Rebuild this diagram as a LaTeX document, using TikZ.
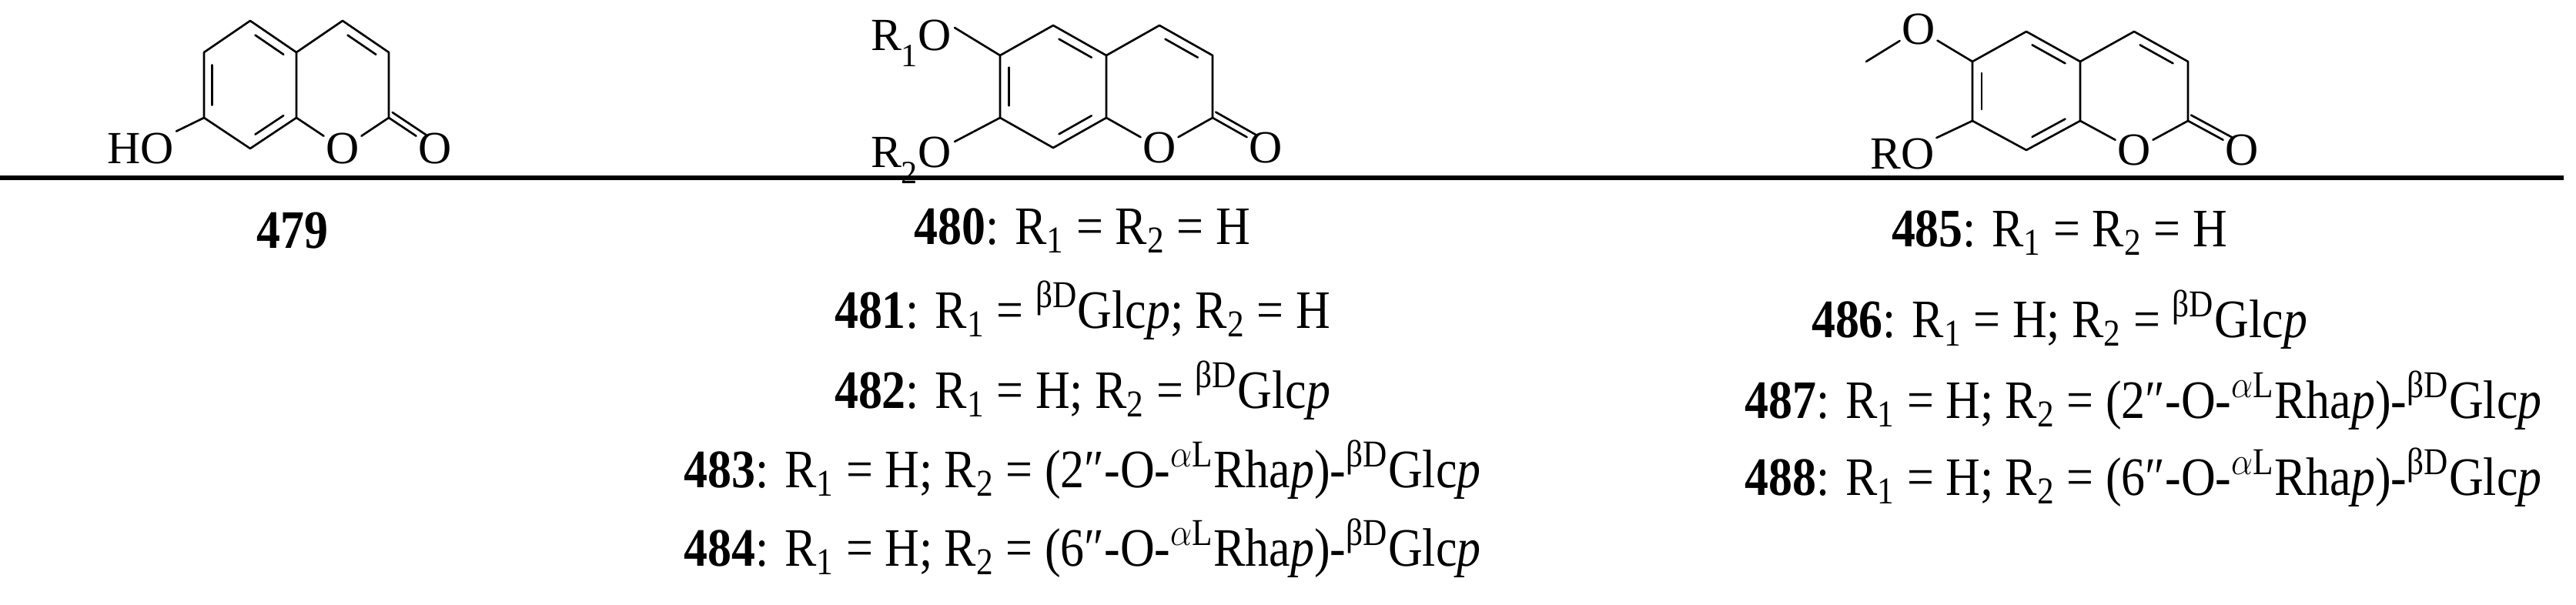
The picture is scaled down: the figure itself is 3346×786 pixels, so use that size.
\documentclass[tikz,border=0pt]{standalone}
\usepackage{fontspec}
\setmainfont{Liberation Serif}
\usetikzlibrary{calc}
\newcommand\coum[7]{%
 \coordinate (#1c5) at ({#2-#3},#4);
 \coordinate (#1c6) at ({#2-2*#3},#5);
 \coordinate (#1c7) at ({#2-2*#3},#6);
 \coordinate (#1c8) at ({#2-#3},#7);
 \coordinate (#1c8a) at (#2,#6);
 \coordinate (#1c4a) at (#2,#5);
 \coordinate (#1c4) at ({#2+#3},#4);
 \coordinate (#1c3) at ({#2+2*#3},#5);
 \coordinate (#1c2) at ({#2+2*#3},#6);
 \coordinate (#1ca) at ({#2-#3},{(#5+#6)/2});
 \coordinate (#1cb) at ({#2+#3},{(#5+#6)/2});
 \node[atom] (#1o1) at ({#2+#3},#7) {O};
 \node[atom] (#1oc) at ({#2+3*#3},#7) {O};
 \draw[bond] (#1c4a) -- (#1c5) -- (#1c6) -- (#1c7) -- (#1c8) -- (#1c8a) -- cycle;
 \draw[bond] (#1c8a) -- (#1o1) -- (#1c2) -- (#1c3) -- (#1c4) -- (#1c4a);
 \draw[bond] (#1c2) -- (#1oc);
 \draw[bond,shorten >=5.5pt] ($(#1c2)!2.4pt!90:(#1oc)$) -- ($(#1oc)!2.4pt!-90:(#1c2)$);
 \dbl{#1c4a}{#1c5}{#1ca}\dbl{#1c6}{#1c7}{#1ca}\dbl{#1c8}{#1c8a}{#1ca}\dbl{#1c3}{#1c4}{#1cb}%
}
\newcommand\dbl[3]{\draw[bond] ($(#1)!0.13!(#2)!0.17!(#3)$) -- ($(#2)!0.13!(#1)!0.17!(#3)$);}
\tikzset{
 bond/.style={line width=0.75pt, line cap=round, line join=round},
 atom/.style={inner sep=0.6pt, font=\fontsize{17pt}{20pt}\selectfont},
 lab/.style={inner sep=0pt, font=\fontsize{20pt}{24pt}\selectfont},
}
\begin{document}
\begin{tikzpicture}[x=0.01cm,y=-0.01cm]
\useasboundingbox (0,0) rectangle (3346,786);
% 479
\coum{a}{385}{60}{27}{68}{153}{193}
\node[atom] (aho) at (183,193) {HO};
\draw[bond] (ac7) -- (aho);
% 480
\coum{b}{1437}{69}{33}{72}{153}{192}
\node[atom,anchor=base east] (br1) at (1238,66) {R\raisebox{-0.35em}{\fontsize{12pt}{14pt}\selectfont 1}O};
\node[atom,anchor=base east] (br2) at (1238,218) {R\raisebox{-0.35em}{\fontsize{12pt}{14pt}\selectfont 2}O};
\draw[bond] (bc6) -- ($(br1.base east)+(2,-30)$);
\draw[bond] (bc7) -- ($(br2.base east)+(2,-34)$);
% 485
\coum{c}{2702}{70}{41}{80}{157}{195}
\node[atom] (cme) at (2492,38) {O};
\coordinate (cmeend) at (2424,80);
\draw[bond] (cc6) -- (cme) -- (cmeend);
\node[atom] (cro) at (2471,200) {RO};
\draw[bond] (cc7) -- (cro);
% rule
\draw[line width=1.7pt] (0,231) coordinate (r0) -- (3330,231) coordinate (r1);
% labels
\newcommand\sq[1]{\scalebox{0.88}[1]{#1}}
\newcommand\rr[1]{R\textsubscript{#1}}
\newcommand\bd{\textsuperscript{βD}Glc\textit{p}}
\newcommand\al{\textsuperscript{$\alpha$L}Rha\textit{p}}
\node[lab] (l479) at (380,300) {\sq{\textbf{479}}};
\node[lab] (l480) at (1406,300) {\sq{\textbf{480}: \rr1 = \rr2 = H}};
\node[lab] (l481) at (1406,403) {\sq{\textbf{481}: \rr1 = \bd; \rr2 = H}};
\node[lab] (l482) at (1406,507) {\sq{\textbf{482}: \rr1 = H; \rr2 = \bd}};
\node[lab] (l483) at (1406,610) {\sq{\textbf{483}: \rr1 = H; \rr2 = (2″-O-\al)-\bd}};
\node[lab] (l484) at (1406,712) {\sq{\textbf{484}: \rr1 = H; \rr2 = (6″-O-\al)-\bd}};
\node[lab] (l485) at (2675,303) {\sq{\textbf{485}: \rr1 = \rr2 = H}};
\node[lab] (l486) at (2675,415) {\sq{\textbf{486}: \rr1 = H; \rr2 = \bd}};
\node[lab] (l487) at (2784,520) {\sq{\textbf{487}: \rr1 = H; \rr2 = (2″-O-\al)-\bd}};
\node[lab] (l488) at (2784,620) {\sq{\textbf{488}: \rr1 = H; \rr2 = (6″-O-\al)-\bd}};
\end{tikzpicture}
\end{document}
